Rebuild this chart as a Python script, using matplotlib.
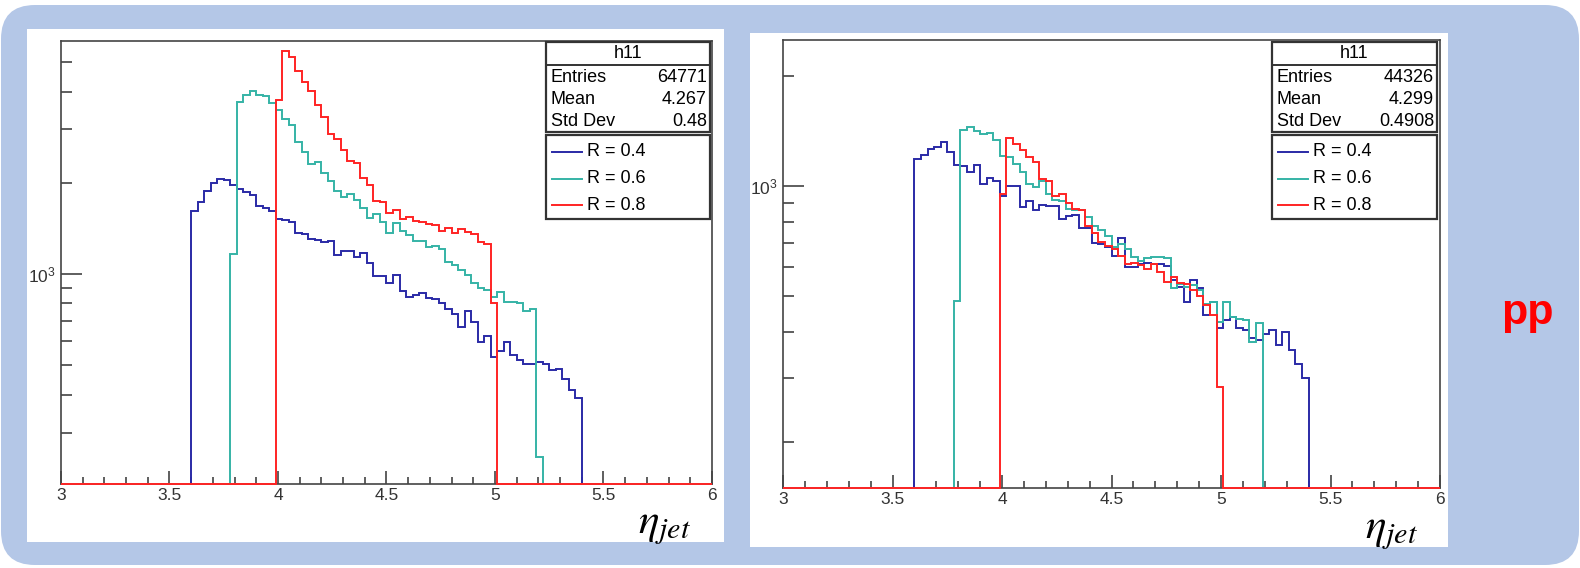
import matplotlib
matplotlib.use("Agg")
import matplotlib.pyplot as plt
import numpy as np
from matplotlib.patches import FancyBboxPatch, Rectangle
from matplotlib.ticker import MultipleLocator, FixedLocator, LogLocator, NullFormatter, FixedFormatter

plt.rcParams['font.family'] = ['Liberation Sans', 'DejaVu Sans']
plt.rcParams['mathtext.fontset'] = 'stix'

# ---- histogram binning (h11: 100 bins in eta from 3 to 6) ----
eta_lo, eta_hi, n_bins = 3.0, 6.0, 100
xtick_labels = ['3', '3.5', '4', '4.5', '5', '5.5', '6']
series_labels = ['R = 0.4', 'R = 0.6', 'R = 0.8']
series_colors = ['#2a2aa6', '#35b3a6', '#ff2424']

# left panel: first filled bin edge and bin contents
left_r04_first = 3.60
left_r04 = [1618, 1732, 1883, 2002, 2059, 2043, 1966, 1908, 1869, 1823,
            1681, 1656, 1614, 1515, 1507, 1488, 1362, 1355, 1301, 1295,
            1279, 1285, 1155, 1194, 1194, 1135, 1170, 1084, 985, 987,
            936, 992, 881, 838, 850, 868, 831, 825, 800, 765,
            738, 667, 757, 697, 598, 624, 534, 558, 598, 541,
            520, 507, 507, 514, 505, 482, 488, 452, 414, 389]
left_r06_first = 3.78
left_r06 = [1164, 3686, 3896, 4027, 3896, 3867, 3657, 3477, 3241, 3103,
            2733, 2535, 2306, 2337, 2149, 2028, 1884, 1800, 1833, 1755,
            1647, 1527, 1578, 1489, 1368, 1477, 1390, 1345, 1285, 1288,
            1231, 1237, 1209, 1098, 1071, 1031, 992, 932, 897, 886,
            842, 874, 810, 806, 800, 757, 770, 250]
left_r08_first = 3.99
left_r08 = [3750, 5445, 5215, 4690, 4311, 4018, 3612, 3305, 2891, 2797,
            2567, 2366, 2318, 2080, 1967, 1746, 1733, 1585, 1626, 1519,
            1546, 1500, 1489, 1459, 1448, 1390, 1415, 1368, 1408, 1379,
            1355, 1272, 1256, 800]
left_stats = ['64771', '4.267', '0.48']
left_ylim = (203, 5875)

# right panel
right_r04_first = 3.60
right_r04 = [1183, 1215, 1267, 1281, 1321, 1241, 1141, 1134, 1094, 1141,
             1017, 1054, 1034, 941, 1000, 1000, 878, 912, 863, 887,
             882, 885, 812, 828, 833, 771, 771, 700, 697, 683,
             644, 724, 600, 600, 615, 617, 615, 612, 606, 556,
             531, 483, 554, 529, 444, 483, 409, 432, 440, 409,
             404, 386, 380, 396, 404, 368, 400, 358, 328, 300]
right_r06_first = 3.78
right_r06 = [486, 1422, 1453, 1416, 1387, 1393, 1341, 1208, 1203, 1153,
             1094, 1013, 992, 1034, 951, 916, 912, 869, 860, 863,
             824, 778, 761, 730, 683, 697, 672, 641, 625, 638,
             641, 641, 638, 529, 542, 531, 536, 522, 478, 483,
             426, 483, 440, 435, 430, 376, 423]
right_r08_first = 3.99
right_r08 = [955, 1350, 1300, 1254, 1203, 1166, 1045, 1034, 939, 955,
             900, 869, 863, 778, 746, 705, 687, 672, 644, 615,
             617, 608, 596, 612, 583, 548, 565, 545, 540, 520,
             500, 473, 444, 283]
right_stats = ['44326', '4.299', '0.4908']
right_ylim = (150, 2507)

W, H = 1580, 568
edges = np.linspace(eta_lo, eta_hi, n_bins + 1)
bin_w = (eta_hi - eta_lo) / n_bins


def full_hist(first, counts):
    h = np.zeros(n_bins)
    i0 = int(round((first - eta_lo) / bin_w))
    h[i0:i0 + len(counts)] = counts
    return h


def px_axes(fig, x0, y0, x1, y1, z):
    return fig.add_axes([x0 / W, 1 - y1 / H, (x1 - x0) / W, (y1 - y0) / H], zorder=z)


fig = plt.figure(figsize=(W / 100, H / 100), dpi=100)

# background: rounded blue slide box + two white picture panels
bg = px_axes(fig, 0, 0, W, H, 0)
bg.set_xlim(0, W); bg.set_ylim(H, 0); bg.axis('off')
bg.add_patch(FancyBboxPatch((1, 5), W - 2, 560, boxstyle='round,pad=0,rounding_size=34',
                            fc='#b4c7e7', ec='none'))
bg.add_patch(Rectangle((27, 29), 697, 513, fc='white', ec='none'))
bg.add_patch(Rectangle((750, 33), 698, 514, fc='white', ec='none'))

panels = [
    dict(box=(61, 41, 712, 484), ylim=left_ylim, stats=left_stats, sx=(546, 710),
         data=[(left_r04_first, left_r04), (left_r06_first, left_r06), (left_r08_first, left_r08)],
         eta=(638, 533)),
    dict(box=(783, 40, 1440, 488), ylim=right_ylim, stats=right_stats, sx=(1272, 1437),
         data=[(right_r04_first, right_r04), (right_r06_first, right_r06), (right_r08_first, right_r08)],
         eta=(1365, 538)),
]

ov = px_axes(fig, 0, 0, W, H, 5)
ov.set_xlim(0, W); ov.set_ylim(H, 0); ov.axis('off')

for p in panels:
    x0, y0, x1, y1 = p['box']
    ax = px_axes(fig, x0, y0, x1, y1, 2)
    ax.set_facecolor('white')
    ymin, ymax = p['ylim']
    for (first, counts), col in zip(p['data'], series_colors):
        h = full_hist(first, counts)
        vals = np.where(h > 0, h, ymin)
        ax.stairs(vals, edges, baseline=None, color=col, lw=1.4, clip_on=False, zorder=3)
    ax.set_xlim(eta_lo, eta_hi)
    ax.set_yscale('log')
    ax.set_ylim(ymin, ymax)
    ax.xaxis.set_major_locator(FixedLocator([float(s) for s in xtick_labels]))
    ax.xaxis.set_minor_locator(MultipleLocator(0.1))
    ax.xaxis.set_major_formatter(FixedFormatter(xtick_labels))
    ax.yaxis.set_major_locator(FixedLocator([1000]))
    ax.yaxis.set_major_formatter(FixedFormatter([r'$\mathregular{10^{3}}$']))
    ax.yaxis.set_minor_locator(LogLocator(base=10, subs=np.arange(2, 10)))
    ax.yaxis.set_minor_formatter(NullFormatter())
    ax.tick_params(which='both', direction='in', top=False, right=False, color='#333333', width=1.1)
    ax.tick_params(axis='x', which='major', length=9.5, labelsize=12.5, pad=3, labelcolor='#333333')
    ax.tick_params(axis='x', which='minor', length=5)
    ax.tick_params(axis='y', which='major', length=15, labelsize=12.5, pad=4, labelcolor='#333333')
    ax.tick_params(axis='y', which='minor', length=8)
    for s in ax.spines.values():
        s.set_color('#444444')
        s.set_linewidth(1.2)

    # stats box
    sx0, sx1 = p['sx']
    ov.add_patch(Rectangle((sx0, 42), sx1 - sx0, 90, fc='white', ec='#333333', lw=1.6))
    ov.plot([sx0, sx1], [65, 65], color='#333333', lw=1.4)
    ov.text((sx0 + sx1) / 2, 54, 'h11', ha='center', va='center', fontsize=13)
    for row, (name, val) in enumerate(zip(['Entries', 'Mean', 'Std Dev'], p['stats'])):
        yy = 77 + row * 22
        ov.text(sx0 + 5, yy, name, ha='left', va='center', fontsize=13)
        ov.text(sx1 - 3, yy, val, ha='right', va='center', fontsize=13)

    # legend box
    ov.add_patch(Rectangle((sx0, 135), sx1 - sx0, 84, fc='white', ec='#333333', lw=1.6))
    for row, (lab, col) in enumerate(zip(series_labels, series_colors)):
        yy = 152 + row * 26.5
        ov.plot([sx0 + 6, sx0 + 36], [yy, yy], color=col, lw=1.4)
        ov.text(sx0 + 41, yy, lab, ha='left', va='center', fontsize=13)

    ex, ey = p['eta']
    ov.text(ex, ey, r'$\eta_{jet}$', ha='left', va='baseline', fontsize=31)

ov.text(1527, 313, 'pp', ha='center', va='center', fontsize=31, fontweight='bold', color='#ff0000')

fig.savefig('out.png', dpi=100)
